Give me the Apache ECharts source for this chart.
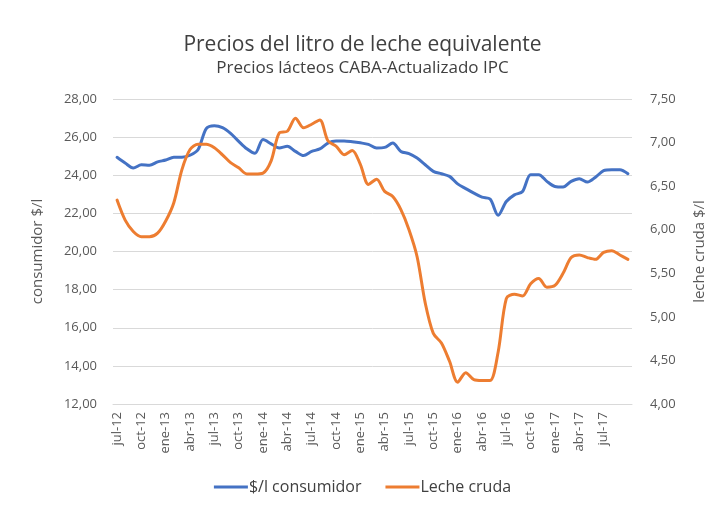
<!doctype html>
<html>
<head>
<meta charset="UTF-8">
<title>Precios del litro de leche equivalente</title>
<script src="https://cdn.jsdelivr.net/npm/echarts@6/dist/echarts.min.js"></script>
<style>
  html, body { margin: 0; padding: 0; background: #fff; }
  #chart { width: 725px; height: 506px; }
</style>
</head>
<body>
<div id="chart"></div>
<script>
// meses jul-12 .. oct-17
var mesesNombres = ['ene', 'feb', 'mar', 'abr', 'may', 'jun', 'jul', 'ago', 'sep', 'oct', 'nov', 'dic'];
var meses = [];
for (var k = 0; k < 64; k++) {
  var m = (6 + k) % 12;
  var a = 12 + Math.floor((6 + k) / 12);
  meses.push(mesesNombres[m] + '-' + a);
}

// $/l consumidor (eje izquierdo)
var consumidor = [
  24.94, 24.64, 24.38, 24.55, 24.52, 24.70, 24.80, 24.95, 24.95, 25.05,
  25.35, 26.45, 26.60, 26.50, 26.20, 25.78, 25.39, 25.15, 25.87, 25.65,
  25.43, 25.52, 25.25, 25.03, 25.25, 25.38, 25.69, 25.80, 25.80, 25.76,
  25.70, 25.62, 25.43, 25.46, 25.69, 25.25, 25.13, 24.90, 24.55, 24.20,
  24.08, 23.94, 23.55, 23.30, 23.06, 22.85, 22.75, 21.90, 22.62, 22.97,
  23.15, 24.03, 24.03, 23.68, 23.41, 23.38, 23.68, 23.82, 23.64, 23.90,
  24.24, 24.29, 24.29, 24.08
];

// Leche cruda $/l (eje derecho)
var lecheCruda = [
  6.34, 6.11, 5.98, 5.92, 5.92, 5.96, 6.10, 6.31, 6.69, 6.92,
  6.98, 6.98, 6.94, 6.86, 6.77, 6.71, 6.64, 6.64, 6.65, 6.79,
  7.11, 7.13, 7.28, 7.17, 7.21, 7.26, 7.02, 6.96, 6.86, 6.91,
  6.75, 6.52, 6.58, 6.44, 6.38, 6.23, 6.00, 5.69, 5.16, 4.81,
  4.70, 4.49, 4.25, 4.36, 4.28, 4.27, 4.27, 4.60, 5.21, 5.26,
  5.24, 5.38, 5.44, 5.34, 5.36, 5.50, 5.68, 5.71, 5.68, 5.66,
  5.74, 5.76, 5.71, 5.66
];

var fuente = 'Open Sans';
function coma(v) { return v.toFixed(2).replace('.', ','); }

var chart = echarts.init(document.getElementById('chart'));
chart.setOption({
  animation: false,
  backgroundColor: '#fff',
  title: {
    text: 'Precios del litro de leche equivalente',
    subtext: 'Precios lácteos CABA-Actualizado IPC',
    left: 'center',
    top: 30,
    itemGap: 4,
    textStyle: { fontFamily: fuente, fontSize: 21, fontWeight: 'normal', color: '#404040' },
    subtextStyle: { fontFamily: fuente, fontSize: 17, color: '#404040' }
  },
  legend: {
    bottom: 6,
    left: 'center',
    icon: 'rect',
    itemWidth: 34,
    itemHeight: 3,
    itemGap: 24,
    textStyle: { fontFamily: fuente, fontSize: 16, color: '#404040', padding: [0, 0, 0, -4] },
    data: ['$/l consumidor', 'Leche cruda']
  },
  grid: { left: 113, right: 93, top: 99, bottom: 102 },
  xAxis: {
    type: 'category',
    data: meses,
    boundaryGap: true,
    axisLine: { lineStyle: { color: '#d9d9d9' } },
    axisTick: { show: false },
    axisLabel: {
      rotate: 90,
      fontFamily: fuente,
      fontSize: 13,
      color: '#595959',
      margin: 8,
      interval: function (i) { return i % 3 === 0 && i < 63; }
    }
  },
  yAxis: [{
    type: 'value',
    min: 12, max: 28, interval: 2,
    name: 'consumidor $/l',
    nameLocation: 'middle',
    nameGap: 68,
    nameTextStyle: { fontFamily: fuente, fontSize: 15, color: '#595959' },
    axisLine: { show: false },
    axisTick: { show: false },
    splitLine: { lineStyle: { color: '#d9d9d9', width: 1 } },
    axisLabel: { fontFamily: fuente, fontSize: 13, color: '#595959', margin: 16, formatter: coma }
  }, {
    type: 'value',
    min: 4, max: 7.5, interval: 0.5,
    name: 'leche cruda $/l',
    nameLocation: 'middle',
    nameGap: 60,
    nameRotate: 90,
    nameTextStyle: { fontFamily: fuente, fontSize: 15, color: '#595959' },
    axisLine: { show: false },
    axisTick: { show: false },
    splitLine: { show: false },
    axisLabel: { fontFamily: fuente, fontSize: 13, color: '#595959', margin: 18, formatter: coma }
  }],
  series: [{
    name: '$/l consumidor',
    type: 'line',
    yAxisIndex: 0,
    data: consumidor,
    smooth: 0.3,
    showSymbol: false,
    lineStyle: { color: '#4472c4', width: 3, cap: 'round', join: 'round' },
    itemStyle: { color: '#4472c4' }
  }, {
    name: 'Leche cruda',
    type: 'line',
    yAxisIndex: 1,
    data: lecheCruda,
    smooth: 0.3,
    showSymbol: false,
    lineStyle: { color: '#ed7d31', width: 3, cap: 'round', join: 'round' },
    itemStyle: { color: '#ed7d31' }
  }]
});
</script>
</body>
</html>
